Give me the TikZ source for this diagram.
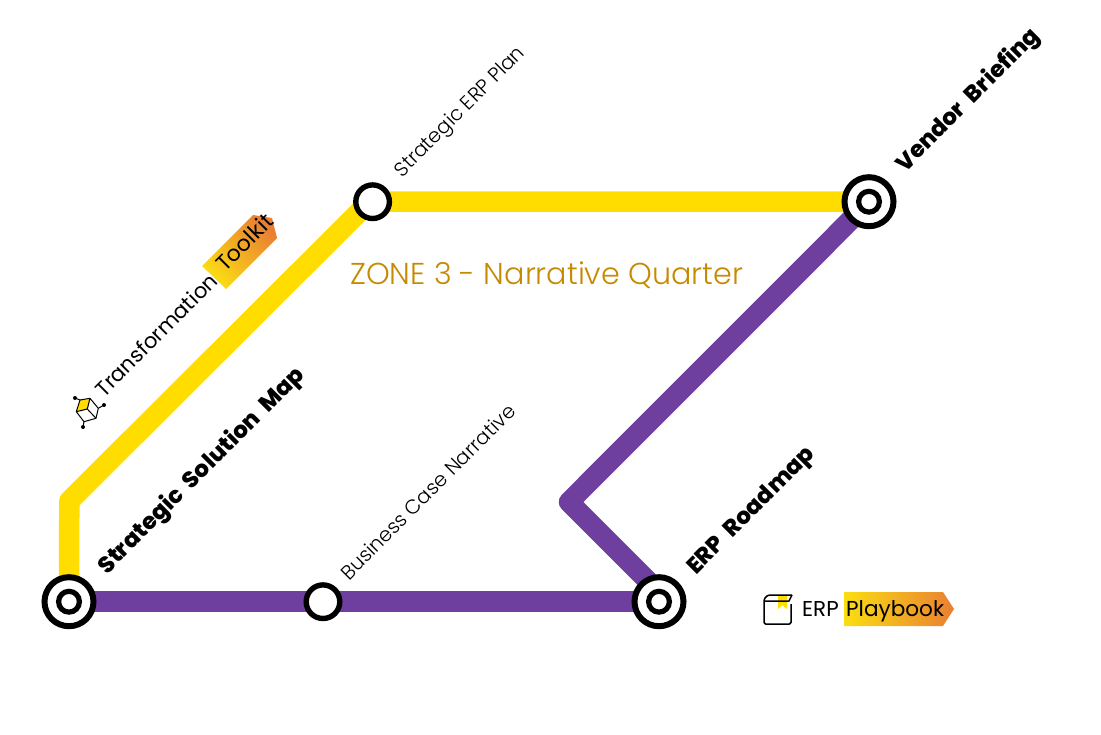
\documentclass[tikz,border=0pt]{standalone}
\usepackage{fontspec}
\setmainfont{Poppins Light}
\newfontfamily\boldfam[WordSpace=2.2]{Poppins ExtraBold}
\newfontfamily\regfam{Poppins}
\usetikzlibrary{backgrounds}
\definecolor{lineyellow}{HTML}{FFDD00}
\definecolor{linepurple}{HTML}{6F3FA0}
\definecolor{zonegold}{HTML}{C68A00}
\definecolor{tagorange}{HTML}{E97F33}
\definecolor{tagyellow}{HTML}{FBDD12}
\tikzset{
  x=1pt,y=-1pt,
  hub/.style={circle,draw=black,fill=white,line width=6pt,inner sep=0pt,outer sep=0pt,minimum size=49pt,
    path picture={\draw[line width=5.2pt,black] (path picture bounding box.center) circle (10.4pt);}},
  halt/.style={circle,draw=black,fill=white,line width=5.4pt,inner sep=0pt,outer sep=0pt,minimum size=33.6pt},
  route/.style={line width=20.5pt,line join=round},
  slanted/.style={rotate=45,anchor=base west,inner sep=0pt,outer sep=0pt,font=\fontsize{20}{20}\selectfont},
  major/.style={slanted,font=\boldfam\fontsize{23}{24}\selectfont},
  tagtext/.style={rotate=45,anchor=base west,inner sep=0pt,outer sep=0pt,font=\regfam\fontsize{22}{23}\selectfont},
  icon/.style={line width=1.5pt,black,line join=round},
}
\begin{document}
\begin{tikzpicture}
\useasboundingbox (0,0) rectangle (1101,734);
% tags
\shade[left color=tagyellow,right color=tagorange,shading angle=135] (202,266) -- (253,215) -- (272,218) -- (277,238) -- (226,289) -- cycle;
\shade[left color=tagyellow,right color=tagorange] (844,592) -- (943,592) -- (954,609) -- (943,626) -- (844,626) -- cycle;
% stations
\node[hub] (ssm) at (69,601.7) {};
\node[hub] (vb) at (869,201.7) {};
\node[hub] (roadmap) at (659,601.7) {};
\node[halt] (plan) at (372.6,201.7) {};
\node[halt] (case) at (323,601.7) {};
\coordinate (bendY) at (69.3,501);
\coordinate (planEntry) at (369.5,201.7);
\coordinate (bendP) at (569,502);
\coordinate (roadEntry) at (659,592);
\begin{scope}[on background layer]
\draw[route,lineyellow] (ssm.center) -- (bendY) -- (planEntry) -- (plan.center) -- (vb.center);
\draw[route,linepurple] (ssm.center) -- (case.center) -- (roadmap.center);
\draw[route,linepurple] (roadEntry) -- (bendP) -- (vb.center);
\end{scope}
% labels
\node[slanted] (lplan) at (402,178) {Strategic ERP Plan};
\node[slanted] (lcase) at (349,581) {Business Case Narrative};
\node[major] (lssm) at (107,575) {Strategic Solution Map};
\node[major] (lvb) at (905,173) {Vendor Briefing};
\node[major] (lroad) at (696,575) {ERP Roadmap};
\node[slanted,font=\regfam\fontsize{21.2}{22}\selectfont] (ltrans) at (104,398) {Transformation};
\node[tagtext] (ltool) at (225.5,272.5) {Toolkit};
\node[inner sep=0pt,anchor=base west,text=zonegold,font=\fontsize{30.2}{31}\selectfont] (zone) at (350,284) {ZONE 3 - Narrative Quarter};
\node[inner sep=0pt,anchor=base west,font=\regfam\fontsize{21.5}{22}\selectfont] (lerp) at (802,616) {ERP};
\node[inner sep=0pt,anchor=base west,font=\regfam\fontsize{21.6}{22}\selectfont] (lbook) at (846,616) {Playbook};
% cube icon
\fill[lineyellow] (80,400) -- (90,398.3) -- (87.3,409) -- (76.3,411.7) -- cycle;
\draw[icon,line width=1pt] (76.3,411.7) -- (80,400) -- (90,398.3) -- (98.3,408.3) -- (96,418.3) -- (84,421.7) -- cycle (76.3,411.7) -- (87.3,409) -- (90,398.3) (87.3,409) -- (96,418.3);
\draw[icon,line width=1pt] (80,400) -- (75,398) (98.3,408.3) -- (104,405) (84,421.7) -- (83,427);
\fill (75,398) circle (2pt) (104,405) circle (2pt) (83,427) circle (2pt);
% book icon
\fill[lineyellow] (778,596) -- (787,596) -- (787,609) -- (782.5,605) -- (778,609) -- cycle;
\draw[icon,rounded corners=1.5pt] (792,595) -- (768,595) -- (764,599) -- (764,624) -- (791,624) -- (791,604);
\draw[icon] (764,601) -- (789,601) -- (792,595);
\end{tikzpicture}
\end{document}
